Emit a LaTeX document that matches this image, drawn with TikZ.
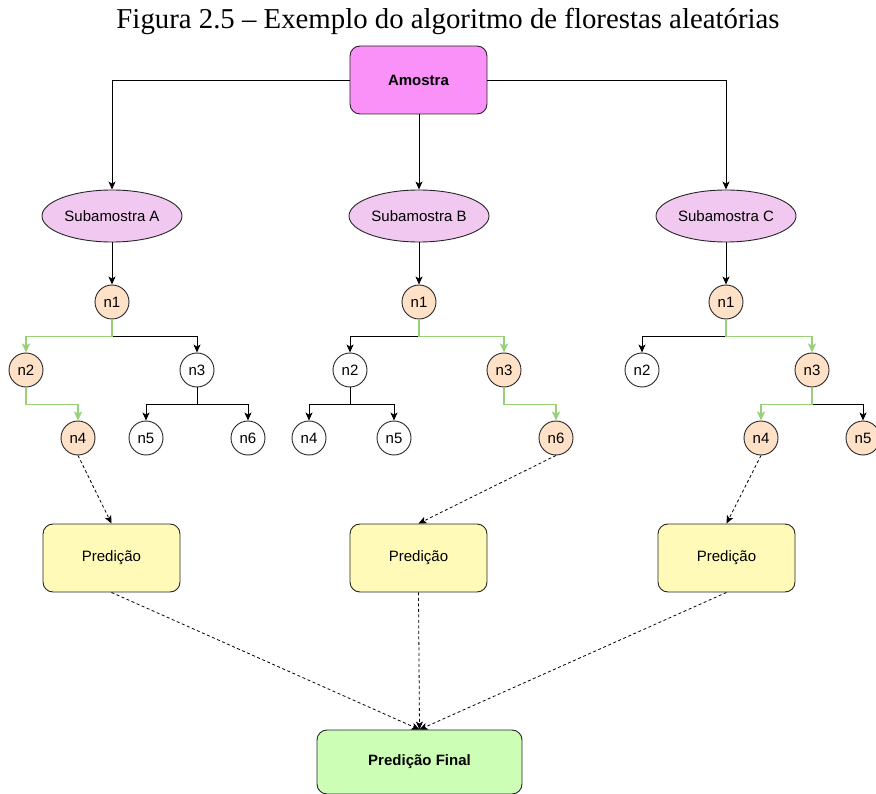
\documentclass[tikz,border=0pt]{standalone}
\usepackage{fontspec}
\setmainfont{Liberation Sans}
\newfontfamily\titlefont{Liberation Serif}
\usetikzlibrary{arrows.meta,shapes.geometric,calc}
\definecolor{amostrafill}{HTML}{F991F8}
\definecolor{subfill}{HTML}{F0C8F0}
\definecolor{nodefill}{HTML}{FFE1C8}
\definecolor{predfill}{HTML}{FFFAB7}
\definecolor{finalfill}{HTML}{CCFFB5}
\definecolor{pathgreen}{HTML}{97D077}
\tikzset{
  box/.style={draw=black!85, rounded corners=10pt, minimum width=137pt, minimum height=68pt, line width=0.9pt, font=\fontsize{15}{18}\selectfont},
  subbox/.style={draw=black!85, ellipse, minimum width=140pt, minimum height=52pt, fill=subfill, line width=0.9pt, inner sep=0pt, font=\fontsize{15}{18}\selectfont},
  tnode/.style={draw=black!85, circle, minimum size=34pt, inner sep=0pt, fill=white, line width=0.9pt, font=\fontsize{15}{18}\selectfont},
  hnode/.style={tnode, fill=nodefill},
  conn/.style={draw=black, line width=0.9pt, -{Stealth[length=8pt,width=7pt,inset=2pt]}},
  greenconn/.style={draw=pathgreen, line width=1.6pt, -{Stealth[length=9pt,width=8pt,inset=2pt]}},
  dashconn/.style={draw=black, line width=0.8pt, dash pattern=on 3pt off 2.5pt, -{Stealth[length=8pt,width=7pt,inset=2pt]}}
}
\begin{document}
\begin{tikzpicture}[x=1pt,y=-1pt]
\useasboundingbox (0,0) rectangle (876,794);
\node[font=\titlefont\fontsize{28.8}{32}\selectfont] (title) at (448,21) {Figura 2.5 – Exemplo do algoritmo de florestas aleatórias};

\node[box, fill=amostrafill, font=\fontsize{15}{18}\selectfont\bfseries] (am) at (418.5,80) {Amostra};

\node[subbox] (sa) at (112,216) {Subamostra A};
\node[subbox] (sb) at (419,216) {Subamostra B};
\node[subbox] (sc) at (726,216) {Subamostra C};

\draw[conn] (am.west) -| (sa.north);
\draw[conn] (am.south -| sb.north) -- (sb.north);
\draw[conn] (am.east) -| (sc.north);

% Tree A
\node[hnode] (a1) at (112,302) {n1};
\node[hnode] (a2) at (26,370) {n2};
\node[tnode] (a3) at (197,370) {n3};
\node[hnode] (a4) at (78,438) {n4};
\node[tnode] (a5) at (146,438) {n5};
\node[tnode] (a6) at (248,438) {n6};
\draw[conn] (sa.south) -- (a1.north);
\draw[conn] (a1.south) -- ++(0,17) -| (a3.north);
\draw[greenconn] (a1.south) -- ++(0,17) -| (a2.north);
\draw[greenconn] (a2.south) -- ++(0,17) -| (a4.north);
\draw[conn] (a3.south) -- ++(0,17) -| (a5.north);
\draw[conn] (a3.south) -- ++(0,17) -| (a6.north);

% Tree B
\node[hnode] (b1) at (419,302) {n1};
\node[tnode] (b2) at (350,370) {n2};
\node[hnode] (b3) at (504,370) {n3};
\node[tnode] (b4) at (309,438) {n4};
\node[tnode] (b5) at (394,438) {n5};
\node[hnode] (b6) at (556,438) {n6};
\draw[conn] (sb.south) -- (b1.north);
\draw[conn] (b1.south) -- ++(0,17) -| (b2.north);
\draw[greenconn] (b1.south) -- ++(0,17) -| (b3.north);
\draw[conn] (b2.south) -- ++(0,17) -| (b4.north);
\draw[conn] (b2.south) -- ++(0,17) -| (b5.north);
\draw[greenconn] (b3.south) -- ++(0,17) -| (b6.north);

% Tree C
\node[hnode] (c1) at (726,302) {n1};
\node[tnode] (c2) at (642,370) {n2};
\node[hnode] (c3) at (812,370) {n3};
\node[hnode] (c4) at (761,438) {n4};
\node[hnode] (c5) at (863,438) {n5};
\draw[conn] (sc.south) -- (c1.north);
\draw[conn] (c1.south) -- ++(0,17) -| (c2.north);
\draw[greenconn] (c1.south) -- ++(0,17) -| (c3.north);
\draw[conn] (c3.south) -- ++(0,17) -| (c5.north);
\draw[greenconn] (c3.south) -- ++(0,17) -| (c4.north);

% Predictions
\node[box, fill=predfill] (pa) at (111.5,558) {Predição};
\node[box, fill=predfill] (pb) at (418.5,558) {Predição};
\node[box, fill=predfill] (pc) at (726.5,558) {Predição};
\node[box, fill=finalfill, minimum width=205pt, minimum height=64pt, font=\fontsize{15}{18}\selectfont\bfseries] (pf) at (419.5,762) {Predição Final};

\draw[dashconn] (a4.south) -- (pa.north);
\draw[dashconn] (b6.south) -- (pb.north);
\draw[dashconn] (c4.south) -- (pc.north);
\draw[dashconn] (pa.south) -- (pf.north);
\draw[dashconn] (pb.south) -- (pf.north);
\draw[dashconn] (pc.south) -- (pf.north);
\end{tikzpicture}
\end{document}
